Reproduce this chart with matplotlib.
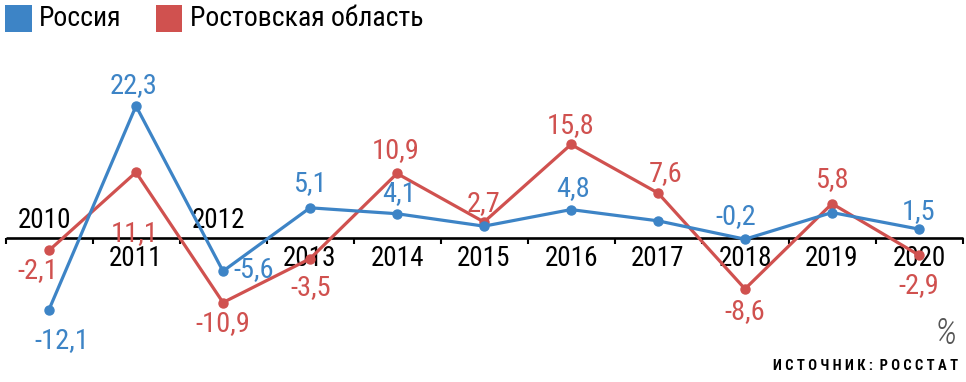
import matplotlib
matplotlib.use('Agg')
import matplotlib.pyplot as plt
from matplotlib.patches import Rectangle

years = [2010, 2011, 2012, 2013, 2014, 2015, 2016, 2017, 2018, 2019, 2020]
russia = [-12.1, 22.3, -5.6, 5.1, 4.1, 2.0, 4.8, 2.9, -0.2, 4.3, 1.5]
rostov = [-2.1, 11.1, -10.9, -3.5, 10.9, 2.7, 15.8, 7.6, -8.6, 5.8, -2.9]
russia_labeled = [True, True, True, True, True, False, True, False, True, False, True]
year_above = [2010, 2012]

# label offsets in pixels (dx, dy), placement only
russia_off = [(13, -31), (-2, 20), (31, 2), (0, 24), (2, 20), (0, 0),
              (2, 21), (0, 0), (-9, 23), (0, 0), (0, 18)]
rostov_off = [(-11, -20), (-1, -61), (0, -21), (1, -29), (-1, 23), (0, 18),
              (0, 19), (8, 19), (0, -23), (0, 24), (0, -30)]

BLUE = '#3d84c6'
RED = '#d0514f'
FONT = ['Roboto Condensed', 'DejaVu Sans']
plt.rcParams['font.family'] = FONT

W, H = 966, 382
fig = plt.figure(figsize=(W / 100, H / 100), dpi=100)
ax = fig.add_axes([0, 0, 1, 1])
ax.axis('off')

step = 87.0
x0 = 5.5  # left edge of first category, px
scale = 5.92  # px per unit
zero_px = 238
ax.set_xlim(-0.5 - x0 / step, -0.5 + (W - x0) / step)
ax.set_ylim(-(H - zero_px) / scale, zero_px / scale)

xs = list(range(len(years)))
n = len(years)

# baseline and ticks
ax.plot([-0.5, n - 0.5], [0, 0], color='black', lw=1.9, solid_capstyle='butt', zorder=1)
ax.vlines([i - 0.5 for i in range(n + 1)], -1.0, 0, color='black', lw=1.5, zorder=1)

for i, y in enumerate(years):
    if y in year_above:
        ax.text(i - 0.05, 3.0, str(y), ha='center', va='center', fontsize=19.5, color='black')
    else:
        ax.text(i, -3.5, str(y), ha='center', va='center', fontsize=19.5, color='black')

ax.plot(xs, rostov, color=RED, lw=2.3, marker='o', ms=6.5, zorder=3)
ax.plot(xs, russia, color=BLUE, lw=2.3, marker='o', ms=6.5, zorder=4)

def fmt(v):
    return f'{v:.1f}'.replace('.', ',')

for i, v in enumerate(rostov):
    dx, dy = rostov_off[i]
    ax.annotate(fmt(v), (i, v), xytext=(dx * 0.72, dy * 0.72), textcoords='offset points',
                ha='center', va='center', fontsize=20.5, color=RED, zorder=5)

for i, v in enumerate(russia):
    if not russia_labeled[i]:
        continue
    dx, dy = russia_off[i]
    ax.annotate(fmt(v), (i, v), xytext=(dx * 0.72, dy * 0.72), textcoords='offset points',
                ha='center', va='center', fontsize=20.5, color=BLUE, zorder=5)

# legend
fig.patches.append(Rectangle((5 / W, 1 - 32 / H), 27 / W, 27 / H, transform=fig.transFigure,
                             facecolor=BLUE, edgecolor='none'))
fig.text(39 / W, 1 - 19 / H, 'Россия', ha='left', va='center', fontsize=20)
fig.patches.append(Rectangle((156 / W, 1 - 32 / H), 26 / W, 27 / H, transform=fig.transFigure,
                             facecolor=RED, edgecolor='none'))
fig.text(190 / W, 1 - 19 / H, 'Ростовская область', ha='left', va='center', fontsize=20)

fig.text(957 / W, 1 - 334 / H, '%', ha='right', va='center', fontsize=26, style='italic',
         color='#555555', fontweight='light')
fig.text(958 / W, 1 - 366 / H, ' '.join('ИСТОЧНИК:') + '  ' + ' '.join('РОССТАТ'),
         ha='right', va='center', fontsize=10.5, fontweight='bold')

fig.savefig('out.png', dpi=100)
